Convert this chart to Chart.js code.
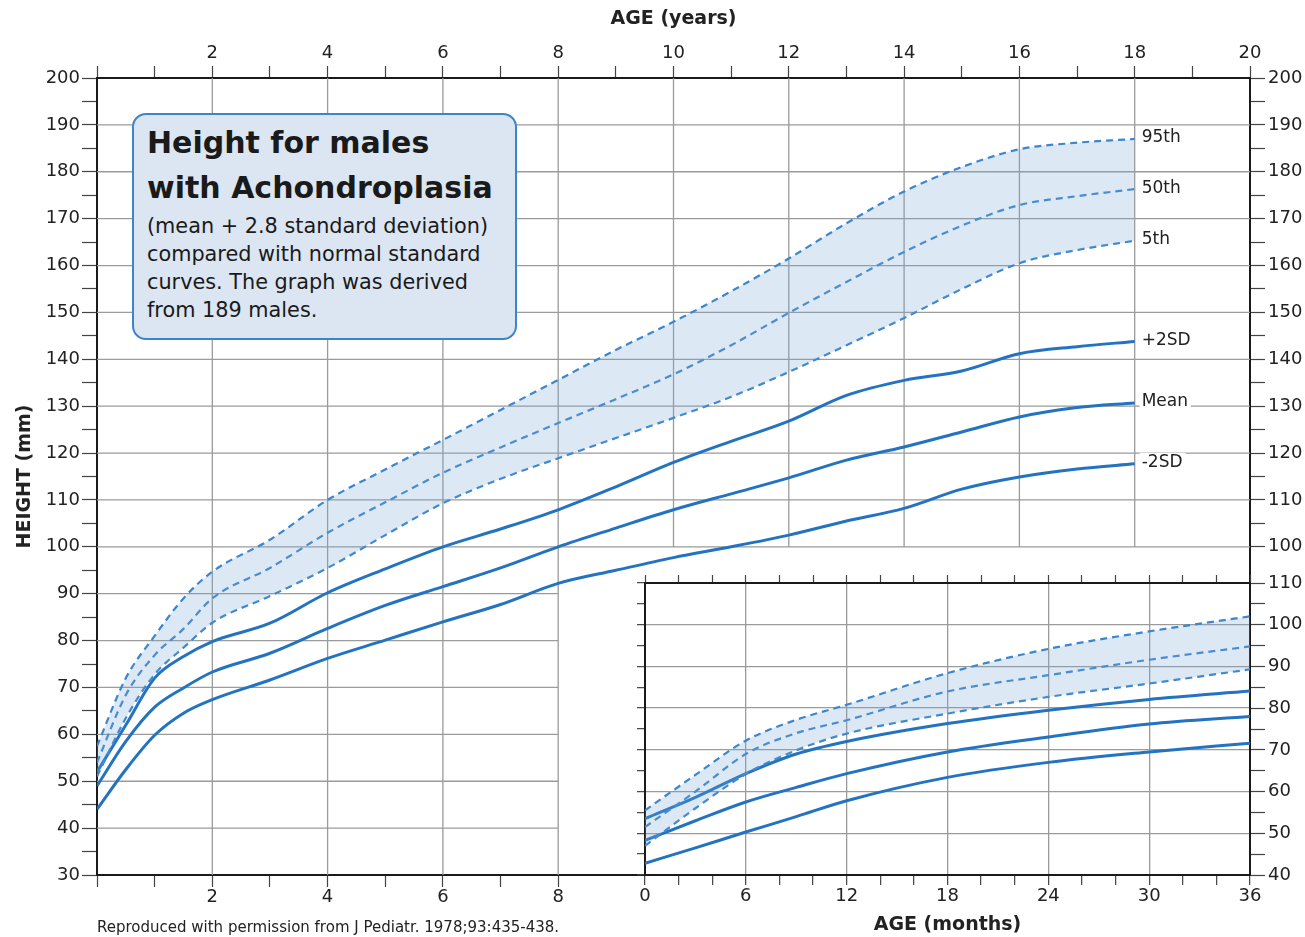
<!DOCTYPE html>
<html>
<head>
<meta charset="utf-8">
<script src="https://cdn.jsdelivr.net/npm/chart.js@4.4.1/dist/chart.umd.min.js"></script>
<style>
  body { margin: 0; background: #fff; font-family: 'DejaVu Sans', sans-serif; }
  #wrap { position: relative; width: 1305px; height: 937px; overflow: hidden; }
  #main { position: absolute; left: 0; top: 0; }
  #inset { position: absolute; left: 560px; top: 540px; }
  .info {
    position: absolute; left: 132px; top: 113px; width: 385px; height: 227px;
    box-sizing: border-box; border: 2.5px solid #3d85c9; border-radius: 14px;
    background: #dbe6f2; padding: 5px 0 0 13px; color: #1a1a1a;
  }
  .info h1 { margin: 0; font-size: 30px; line-height: 45px; font-weight: bold; }
  .info p { margin: 2px 0 0; font-size: 20.8px; line-height: 28px; }
  .note { position: absolute; left: 97px; top: 919px; font-size: 15px; line-height: 17px; color: #222; }
</style>
</head>
<body>
<div id="wrap">
  <canvas id="main" width="1305" height="937"></canvas>
  <canvas id="inset" width="745" height="397"></canvas>
  <div class="info">
    <h1>Height for males<br>with Achondroplasia</h1>
    <p>(mean + 2.8 standard deviation)<br>compared with normal standard<br>curves. The graph was derived<br>from 189 males.</p>
  </div>
  <div class="note">Reproduced with permission from J Pediatr. 1978;93:435-438.</div>
</div>
<script>
// main chart, age in years
const ages = [0, 0.5, 1, 1.5, 2, 3, 4, 5, 6, 7, 8, 9, 10, 11, 12, 13, 14, 15, 16, 17, 18];
const p95 = [57.5, 72, 81, 89, 94.7, 101.5, 110, 116.5, 122.8, 129.2, 135.6, 142, 148, 154.5, 161.5, 169, 175.8, 181, 184.8, 186.2, 187];
const p50 = [54, 68.4, 76.9, 82.5, 89, 95.5, 103, 109.5, 115.8, 121.2, 126.4, 131.5, 136.8, 143, 149.9, 156.5, 162.9, 168.5, 172.9, 174.8, 176.3];
const p5 = [51, 63.5, 72.8, 78.5, 83.8, 89.5, 95.5, 102.5, 109.3, 114.5, 118.9, 123.2, 127.5, 132, 137.3, 143, 148.8, 155, 160.5, 163.3, 165.3];
const sdHigh = [52, 62, 72, 76.6, 79.8, 83.7, 90.2, 95.3, 100, 103.8, 107.9, 112.8, 118, 122.5, 126.8, 132.3, 135.5, 137.5, 141.2, 142.7, 143.8];
const sdMean = [49, 58.5, 65.8, 69.9, 73.3, 77.3, 82.6, 87.5, 91.5, 95.5, 100, 104, 107.9, 111.3, 114.7, 118.5, 121.3, 124.5, 127.7, 129.7, 130.7];
const sdLow = [44, 52.5, 59.8, 64.5, 67.4, 71.6, 76.2, 80.1, 84, 87.7, 92.2, 95, 97.7, 100, 102.5, 105.5, 108.2, 112.3, 114.9, 116.6, 117.7];
const curveNames = ['95th', '50th', '5th', '+2SD', 'Mean', '-2SD'];

// inset chart, age in months
const months = [0, 3, 6, 9, 12, 18, 24, 30, 36];
const i95 = [55.5, 64, 72.2, 77.2, 80.8, 88.4, 94.2, 98.4, 102];
const i50 = [51.5, 60, 69, 74, 77.1, 84, 87.9, 91.6, 94.8];
const i5 = [47, 56, 64.2, 69.9, 73.9, 78.7, 82.7, 85.9, 89.3];
const iHigh = [53.5, 58.6, 64.3, 69, 72, 76.3, 79.5, 82.1, 84.1];
const iMean = [48.3, 53, 57.5, 61, 64.3, 69.5, 73.1, 76.2, 78];
const iLow = [42.8, 46.5, 50.3, 54, 57.8, 63.4, 67, 69.5, 71.6];

// grid positions for the main chart
const yearLines = [2, 4, 6, 8, 10, 12, 14, 16, 18];
const heightLines = [40, 50, 60, 70, 80, 90, 100, 110, 120, 130, 140, 150, 160, 170, 180, 190];

const solidBlue = '#2373c1';
const dashBlue = '#3b86cf';
const bandFill = 'rgba(115,163,211,0.25)';
const gridGray = '#9b9b9b';
const inkColor = '#222';
const axisColor = '#1a1a1a';

Chart.defaults.font.family = "'DejaVu Sans', sans-serif";
Chart.defaults.color = inkColor;

function curve(xs, ys, name, dashed, fillTo) {
  return {
    label: name,
    data: xs.map((x, i) => ({ x: x, y: ys[i] })),
    borderColor: dashed ? dashBlue : solidBlue,
    borderWidth: dashed ? 2.2 : 3,
    borderDash: dashed ? [7, 5] : [],
    backgroundColor: bandFill,
    fill: fillTo === undefined ? false : fillTo,
    pointRadius: 0,
    cubicInterpolationMode: 'monotone'
  };
}

const tickFont = { size: 18 };
const titleFont = { size: 19, weight: 'bold' };

// main grid: lines stop short where the inset sits
const mainGrid = {
  id: 'mainGrid',
  beforeDatasetsDraw(chart) {
    const { ctx, scales: { x, y } } = chart;
    ctx.save();
    ctx.strokeStyle = gridGray;
    ctx.lineWidth = 1.3;
    ctx.beginPath();
    yearLines.forEach(a => {
      const px = x.getPixelForValue(a);
      const yEnd = a <= 8 ? y.bottom : y.getPixelForValue(100);
      ctx.moveTo(px, y.top);
      ctx.lineTo(px, yEnd);
    });
    heightLines.forEach(h => {
      const py = y.getPixelForValue(h);
      const xEnd = h < 100 ? x.getPixelForValue(8) : x.right;
      ctx.moveTo(x.left, py);
      ctx.lineTo(xEnd, py);
    });
    ctx.stroke();
    ctx.restore();
  }
};

// names at the end of each curve
const endLabels = {
  id: 'endLabels',
  afterDatasetsDraw(chart) {
    const ctx = chart.ctx;
    ctx.save();
    ctx.font = "17px 'DejaVu Sans'";
    ctx.textBaseline = 'middle';
    chart.data.datasets.forEach((ds, i) => {
      const pts = chart.getDatasetMeta(i).data;
      const last = pts[pts.length - 1];
      const w = ctx.measureText(ds.label).width;
      ctx.fillStyle = '#fff';
      ctx.fillRect(last.x + 5, last.y - 11, w + 5, 20);
      ctx.fillStyle = inkColor;
      ctx.fillText(ds.label, last.x + 7, last.y - 1);
    });
    ctx.restore();
  }
};

new Chart(document.getElementById('main'), {
  type: 'line',
  data: {
    datasets: [
      curve(ages, p95, curveNames[0], true, 2),
      curve(ages, p50, curveNames[1], true),
      curve(ages, p5, curveNames[2], true),
      curve(ages, sdHigh, curveNames[3], false),
      curve(ages, sdMean, curveNames[4], false),
      curve(ages, sdLow, curveNames[5], false)
    ]
  },
  options: {
    responsive: false,
    animation: false,
    devicePixelRatio: 1,
    layout: { padding: 0 },
    plugins: { legend: { display: false }, tooltip: { enabled: false } },
    scales: {
      x: {
        type: 'linear', position: 'bottom', min: 0, max: 20,
        afterBuildTicks: s => { s.ticks = s.ticks.filter(t => t.value <= 8); },
        afterFit: s => { s.height = 62; },
        ticks: { stepSize: 1, autoSkip: false, maxRotation: 0, padding: 0, font: tickFont,
          callback: v => (v > 0 && v % 2 === 0 ? v : '') },
        grid: { drawOnChartArea: false, tickLength: 12, tickColor: '#444', tickWidth: 1.2 },
        border: { color: axisColor, width: 2 }
      },
      x2: {
        type: 'linear', position: 'top', min: 0, max: 20,
        afterFit: s => { s.height = 78; },
        ticks: { stepSize: 1, autoSkip: false, maxRotation: 0, padding: 2, font: tickFont,
          callback: v => (v > 0 && v % 2 === 0 ? v : '') },
        grid: { drawOnChartArea: false, tickLength: 12, tickColor: '#444', tickWidth: 1.2 },
        border: { color: axisColor, width: 2 },
        title: { display: true, text: 'AGE (years)', font: titleFont, padding: { top: 8, bottom: 0 } }
      },
      y: {
        type: 'linear', position: 'left', min: 30, max: 200,
        afterFit: s => { s.width = 97; },
        ticks: { stepSize: 5, autoSkip: false, padding: 2, font: tickFont,
          callback: v => (v % 10 === 0 ? v : '') },
        grid: { drawOnChartArea: false, tickLength: 15, tickColor: '#444', tickWidth: 1.2 },
        border: { color: axisColor, width: 2 },
        title: { display: true, text: 'HEIGHT (mm)', font: titleFont, padding: { top: 14, bottom: 0 } }
      },
      y2: {
        type: 'linear', position: 'right', min: 30, max: 200,
        afterBuildTicks: s => { s.ticks = s.ticks.filter(t => t.value >= 100); },
        afterFit: s => { s.width = 55; },
        ticks: { stepSize: 5, autoSkip: false, padding: 3, font: tickFont,
          callback: v => (v % 10 === 0 ? v : '') },
        grid: { drawOnChartArea: false, tickLength: 15, tickColor: '#444', tickWidth: 1.2 },
        border: { color: axisColor, width: 2 }
      }
    }
  },
  plugins: [mainGrid, endLabels]
});

// inset: first three years in months
const insetGridColor = (ctx, step, lo, hi) =>
  (ctx.tick && ctx.tick.value % step === 0 && ctx.tick.value > lo && ctx.tick.value < hi) ? gridGray : 'rgba(0,0,0,0)';

new Chart(document.getElementById('inset'), {
  type: 'line',
  data: {
    datasets: [
      curve(months, i95, curveNames[0], true, 2),
      curve(months, i50, curveNames[1], true),
      curve(months, i5, curveNames[2], true),
      curve(months, iHigh, curveNames[3], false),
      curve(months, iMean, curveNames[4], false),
      curve(months, iLow, curveNames[5], false)
    ]
  },
  options: {
    responsive: false,
    animation: false,
    devicePixelRatio: 1,
    layout: { padding: 0 },
    plugins: { legend: { display: false }, tooltip: { enabled: false } },
    scales: {
      x: {
        type: 'linear', position: 'bottom', min: 0, max: 36,
        afterFit: s => { s.height = 62; },
        ticks: { stepSize: 2, autoSkip: false, maxRotation: 0, padding: 1, font: tickFont,
          callback: v => (v % 6 === 0 ? v : '') },
        grid: { color: c => insetGridColor(c, 6, 0, 36), lineWidth: 1.3, tickLength: 10, tickColor: '#444', tickWidth: 1.2 },
        border: { color: axisColor, width: 2 },
        title: { display: true, text: 'AGE (months)', font: titleFont, padding: { top: 0, bottom: 1 } }
      },
      x2: {
        type: 'linear', position: 'top', min: 0, max: 36,
        afterFit: s => { s.height = 43; },
        ticks: { stepSize: 2, autoSkip: false, display: false },
        grid: { drawOnChartArea: false, tickLength: 8, tickColor: '#444', tickWidth: 1.2 },
        border: { color: axisColor, width: 2 }
      },
      y: {
        type: 'linear', position: 'left', min: 40, max: 110,
        afterFit: s => { s.width = 85; },
        ticks: { stepSize: 5, autoSkip: false, display: false },
        grid: { color: c => insetGridColor(c, 10, 40, 110), lineWidth: 1.3, tickLength: 8, tickColor: '#444', tickWidth: 1.2 },
        border: { color: axisColor, width: 2 }
      },
      y2: {
        type: 'linear', position: 'right', min: 40, max: 110,
        afterFit: s => { s.width = 55; },
        ticks: { stepSize: 5, autoSkip: false, padding: 3, font: tickFont,
          callback: v => (v % 10 === 0 ? v : '') },
        grid: { drawOnChartArea: false, tickLength: 15, tickColor: '#444', tickWidth: 1.2 },
        border: { color: axisColor, width: 2 }
      }
    }
  }
});
</script>
</body>
</html>
